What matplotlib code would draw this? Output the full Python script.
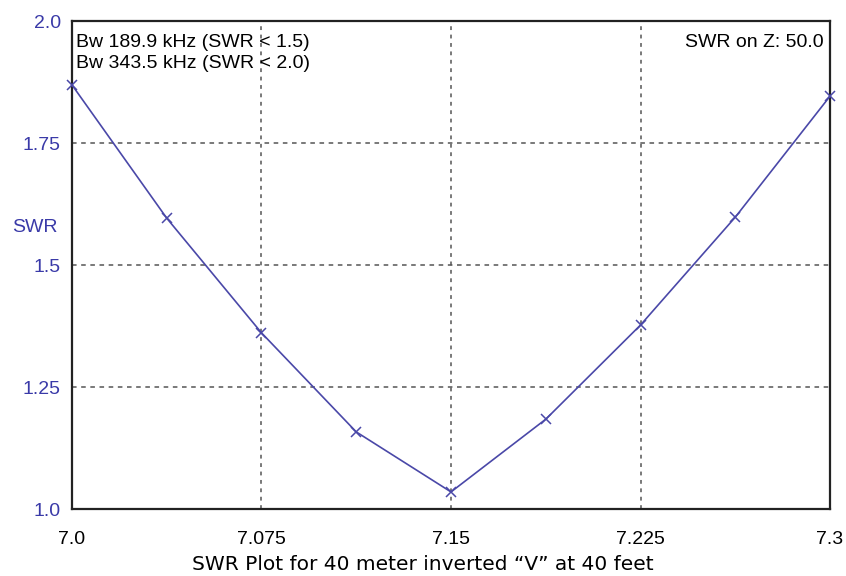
import matplotlib
matplotlib.use('Agg')
import matplotlib.pyplot as plt

# SWR sweep, 40 m inverted V
freq = [7.0, 7.0375, 7.075, 7.1125, 7.15, 7.1875, 7.225, 7.2625, 7.3]
swr = [1.869, 1.596, 1.361, 1.158, 1.035, 1.184, 1.377, 1.598, 1.846]

xticks = [7.0, 7.075, 7.15, 7.225, 7.3]
xlabels = ['7.0', '7.075', '7.15', '7.225', '7.3']
yticks = [1.0, 1.25, 1.5, 1.75, 2.0]
ylabels = ['1.0', '1.25', '1.5', '1.75', '2.0']

bw_lines = ['Bw 189.9 kHz (SWR < 1.5)', 'Bw 343.5 kHz (SWR < 2.0)']
z_text = 'SWR on Z: 50.0'
caption = 'SWR Plot for 40 meter inverted \u201cV\u201d at 40 feet'

plt.rcParams['font.family'] = ['Liberation Sans', 'DejaVu Sans']
blue = '#3a3aa8'

fig = plt.figure(figsize=(8.46, 5.76), dpi=100)
ax = fig.add_axes([0.0851, 0.1163, 0.8960, 0.8472])

ax.plot(freq, swr, color='#4a48a8', lw=1.2, marker='x', ms=7, mew=1.1,
        clip_on=False, zorder=3)

ax.set_xlim(7.0, 7.3)
ax.set_ylim(1.0, 2.0)
ax.set_xticks(xticks)
ax.set_xticklabels(xlabels, fontsize=14)
ax.set_yticks(yticks)
ax.set_yticklabels(ylabels, fontsize=14, color=blue)
ax.tick_params(length=0, pad=8)
ax.tick_params(axis='x', pad=16)

# grid only on the inner ticks
for x in xticks[1:-1]:
    ax.axvline(x, color='#555555', lw=1.1, ls=(0, (2.5, 3)), zorder=1)
for y in yticks[1:-1]:
    ax.axhline(y, color='#555555', lw=1.1, ls=(0, (3, 3)), zorder=1)

for s in ax.spines.values():
    s.set_linewidth(1.6)
    s.set_color('#222222')

ax.text(0.005, 0.955, bw_lines[0], transform=ax.transAxes,
        fontsize=14, va='center', ha='left')
ax.text(0.005, 0.912, bw_lines[1], transform=ax.transAxes,
        fontsize=14, va='center', ha='left')
ax.text(0.991, 0.955, z_text, transform=ax.transAxes,
        fontsize=14, va='center', ha='right')

fig.text(12 / 846, 1 - 227 / 576, 'SWR', color=blue, fontsize=14,
         ha='left', va='center')
fig.text(0.5, 1 - 564 / 576, caption, fontsize=14.5, ha='center', va='center',
         family=['DejaVu Sans'])

fig.savefig('out.png', dpi=100)
